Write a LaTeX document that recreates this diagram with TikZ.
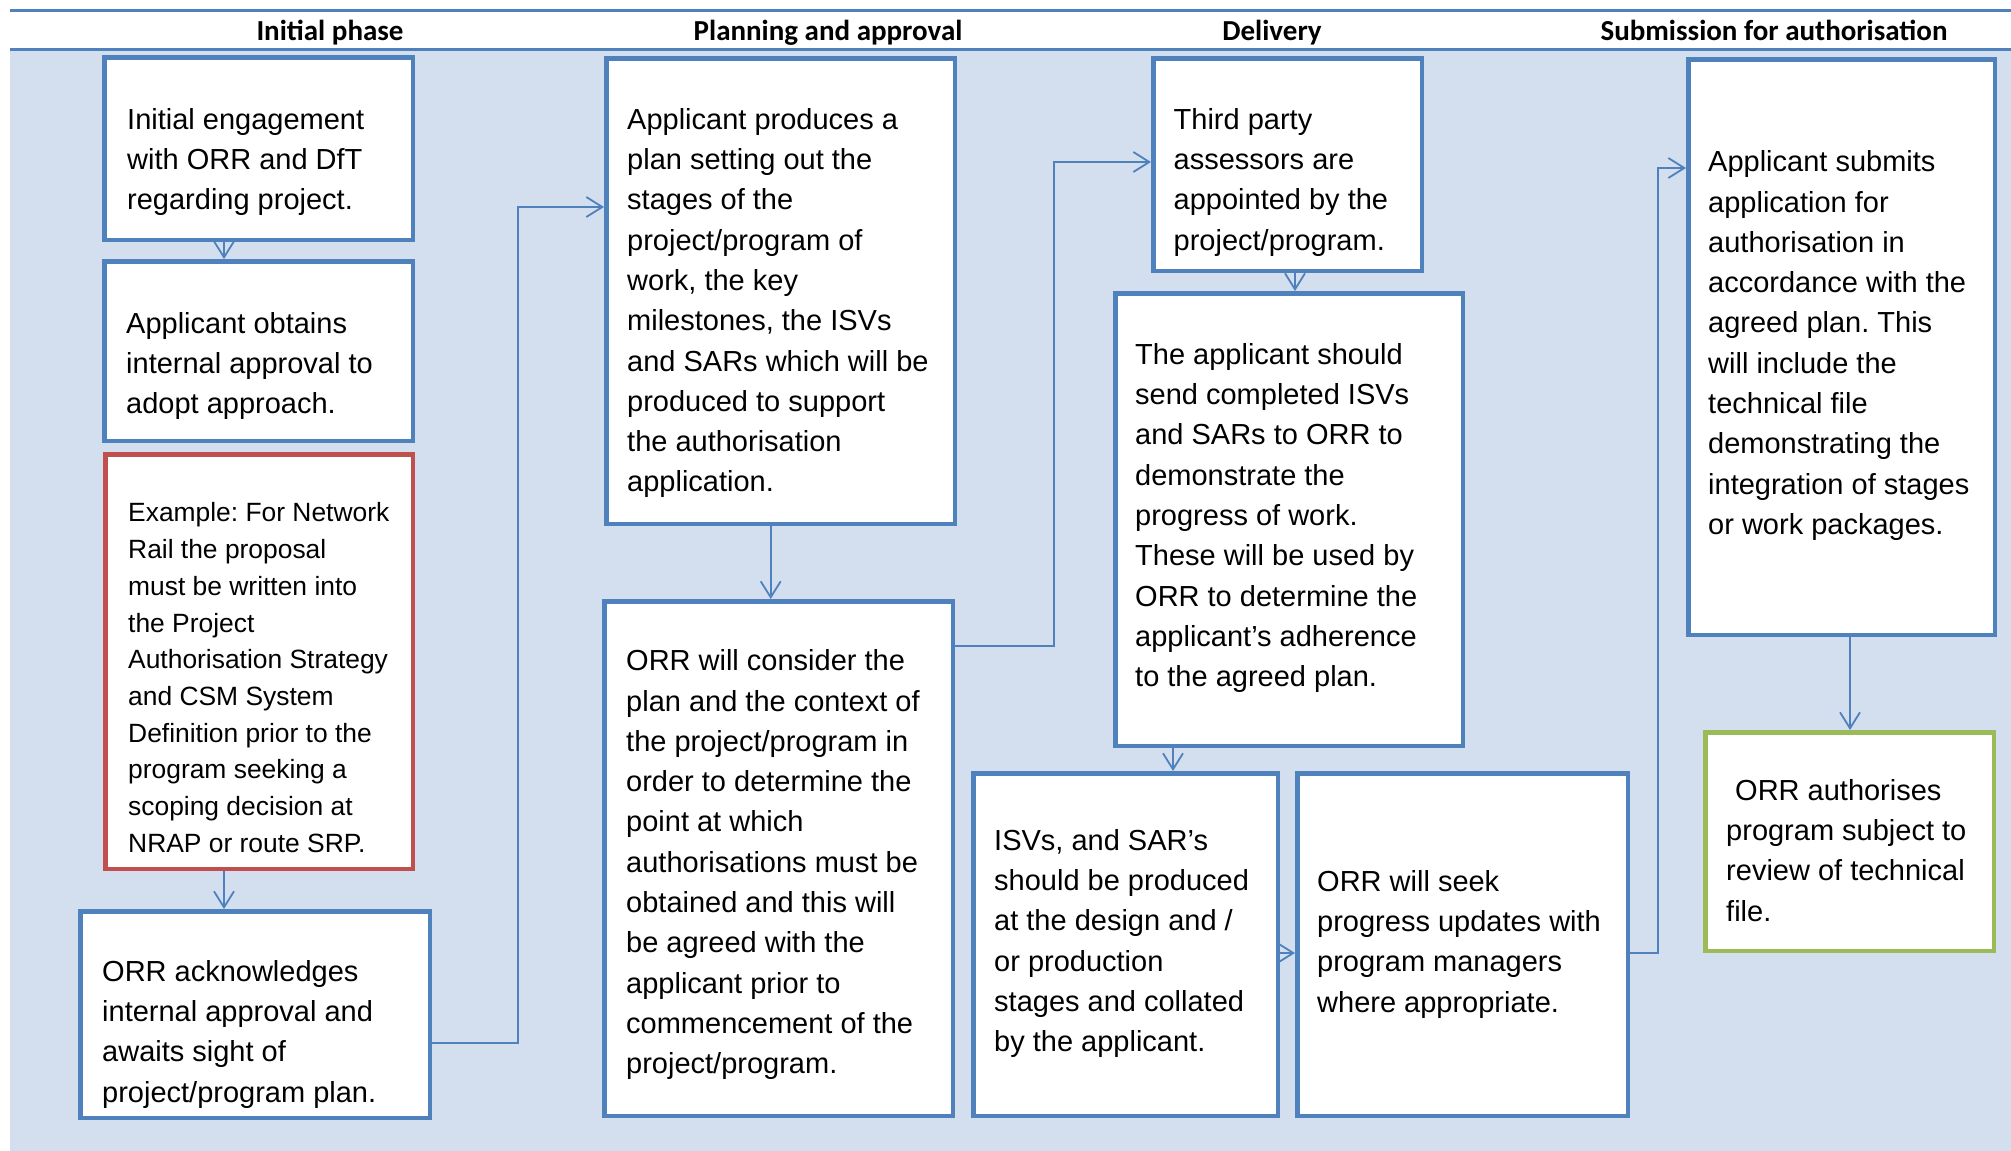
\documentclass[tikz,border=0pt]{standalone}
\usepackage{fontspec}
\setmainfont{Liberation Sans}
\newfontfamily\hdrfont{Carlito}
\usetikzlibrary{arrows.meta}
\definecolor{accblue}{HTML}{4F81BD}
\definecolor{bgblue}{RGB}{211,223,238}
\definecolor{accred}{HTML}{C0504D}
\definecolor{accgreen}{HTML}{9BBB59}
\newcommand\fl{\rule{0pt}{30pt}}
\frenchspacing
\tikzset{
  box/.style={draw=accblue, line width=4.5pt, fill=white, inner sep=0pt},
  redbox/.style={box, draw=accred},
  greenbox/.style={box, draw=accgreen},
  txt/.style={anchor=north west, inner sep=0pt, align=left, text=black,
    font=\frenchspacing\fontsize{29}{40.3}\selectfont},
  smalltxt/.style={txt, font=\frenchspacing\fontsize{26.4}{36.7}\selectfont},
  hdr/.style={anchor=base, inner sep=0pt, font=\hdrfont\bfseries\fontsize{29}{34}\selectfont},
  conn/.style={draw=accblue, line width=1.8pt, -{Straight Barb[length=16pt,width=20pt,line width=1.8pt]}},
  plain/.style={draw=accblue, line width=1.8pt}
}
\begin{document}
\begin{tikzpicture}[x=1pt,y=-1pt]
\useasboundingbox (0,0) rectangle (2011,1151);
\fill[bgblue] (10,49) rectangle (2011,1151);
\draw[accblue, line width=3pt] (10,10) -- (2011,10);
\draw[accblue, line width=3pt] (10,49) -- (2011,49);

% headers
\node[hdr] (h1) at (330,40) {Initial phase};
\node[hdr] (h2) at (828,40) {Planning and approval};
\node[hdr] (h3) at (1272,40) {Delivery};
\node[hdr] (h4) at (1774,40) {Submission for authorisation};

% boxes
\node[box, minimum width=308.5pt, minimum height=182.5pt] (A) at (258.5,148.5) {};
\node[box, minimum width=308.5pt, minimum height=179.5pt] (B) at (258.5,351) {};
\node[redbox, minimum width=307.5pt, minimum height=414.5pt] (C) at (259,661.5) {};
\node[box, minimum width=349.5pt, minimum height=206.5pt] (D) at (255,1014.5) {};
\node[box, minimum width=348.5pt, minimum height=465.5pt] (E) at (780.5,291) {};
\node[box, minimum width=348.5pt, minimum height=514.5pt] (F) at (778.5,858.5) {};
\node[box, minimum width=268.5pt, minimum height=212.5pt] (H) at (1287.5,164.5) {};
\node[box, minimum width=347.5pt, minimum height=452.5pt] (G) at (1289,519.5) {};
\node[box, minimum width=304.5pt, minimum height=342.5pt] (I) at (1125.5,944.5) {};
\node[box, minimum width=330.5pt, minimum height=342.5pt] (J) at (1462.5,944.5) {};
\node[box, minimum width=306.5pt, minimum height=575.5pt] (K) at (1841.5,347) {};
\node[greenbox, minimum width=288.5pt, minimum height=218.5pt] (L) at (1849.5,841.5) {};

% texts
\node[txt] (tA) at (127,99) {\fl Initial engagement\\with ORR and DfT\\regarding project.};
\node[txt] (tB) at (126,303) {\fl Applicant obtains\\internal approval to\\adopt approach.};
\node[smalltxt] (tC) at (128,491.7) {\fl Example: For Network\\Rail the proposal\\must be written into\\the Project\\Authorisation Strategy\\and CSM System\\Definition prior to the\\program seeking a\\scoping decision at\\NRAP or route SRP.};
\node[txt] (tD) at (102,951) {\fl ORR acknowledges\\internal approval and\\awaits sight of\\project/program plan.};
\node[txt] (tE) at (627,99) {\fl Applicant produces a\\plan setting out the\\stages of the\\project/program of\\work, the key\\milestones, the ISVs\\and SARs which will be\\produced to support\\the authorisation\\application.};
\node[txt] (tF) at (626,640.5) {\fl ORR will consider the\\plan and the context of\\the project/program in\\order to determine the\\point at which\\authorisations must be\\obtained and this will\\be agreed with the\\applicant prior to\\commencement of the\\project/program.};
\node[txt] (tH) at (1173.5,99) {\fl Third party\\assessors are\\appointed by the\\project/program.};
\node[txt] (tG) at (1135,334) {\fl The applicant should\\send completed ISVs\\and SARs to ORR to\\demonstrate the\\progress of work.\\These will be used by\\ORR to determine the\\applicant’s adherence\\to the agreed plan.};
\node[txt] (tI) at (994,820) {\fl ISVs, and SAR’s\\should be produced\\at the design and /\\or production\\stages and collated\\by the applicant.};
\node[txt] (tJ) at (1317,861) {\fl ORR will seek\\progress updates with\\program managers\\where appropriate.};
\node[txt] (tK) at (1708,141.5) {\fl Applicant submits\\application for\\authorisation in\\accordance with the\\agreed plan. This\\will include the\\technical file\\demonstrating the\\integration of stages\\or work packages.};
\node[txt] (tL) at (1726,770) {\fl\hspace*{9pt}ORR authorises\\program subject to\\review of technical\\file.};

% connectors
\draw[conn] ([xshift=-34.5pt]A.south) -- ([xshift=-34.5pt]B.north);
\draw[conn] ([xshift=-35pt]C.south) -- ([xshift=-35pt]C.south |- D.north);
\draw[conn] ([yshift=-28.5pt]D.east) -- ++(86,0) |- ([yshift=84pt]E.west);
\draw[conn] ([xshift=-9.8pt]E.south) -- ([xshift=-9.8pt]E.south |- F.north);
\draw[conn] ([yshift=212.5pt]F.east) -- ++(99,0) |- ([yshift=2.5pt]H.west);
\draw[conn] ([xshift=7.5pt]H.south) -- ([xshift=7.5pt]H.south |- G.north);
\draw[conn] ([xshift=-116pt]G.south) -- ([xshift=-116pt]G.south |- I.north);
\draw[conn] ([yshift=-8.5pt]I.east) -- ([yshift=-8.5pt]I.east -| J.west);
\draw[conn] ([yshift=-8.5pt]J.east) -- ++(28,0) |- ([yshift=179pt]K.west);
\draw[conn] ([xshift=8.5pt]K.south) -- ([xshift=8.5pt]K.south |- L.north);
\end{tikzpicture}
\end{document}
